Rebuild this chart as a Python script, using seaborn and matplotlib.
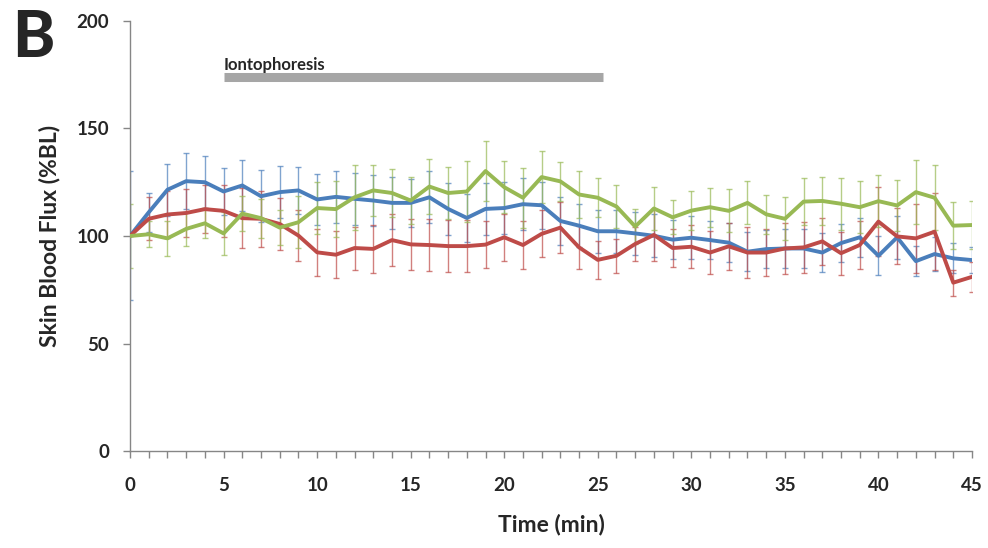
import numpy as np
import pandas as pd
import matplotlib
matplotlib.use("Agg")
import matplotlib.pyplot as plt
import seaborn as sns

# Tiempo (min) y flujo sanguíneo (%BL) por grupo, con su desviación
time = list(range(46))

blue = [100, 111, 121.5, 125.5, 125, 120.7, 123.5, 118.5, 120.4, 121.2, 117, 118.2,
        117.3, 116.5, 115.4, 115.4, 118, 112.6, 108.4, 112.6, 113, 114.8, 114.3, 107,
        104.8, 102.2, 102.2, 101.2, 100.1, 98.3, 99.2, 98.1, 96.9, 92.7, 93.9, 94.2,
        94.2, 92.3, 96.7, 99.4, 90.8, 99.4, 88.3, 91.6, 89.6, 88.8]
red = [100, 108, 110, 110.7, 112.5, 111.7, 108.3, 108, 105.6, 100.2, 92.4, 91.3,
       94.4, 94, 98.1, 96.1, 95.8, 95.3, 95.3, 96, 99.4, 95.8, 101, 103.9, 94.7, 88.9,
       90.8, 96.3, 100.5, 94.4, 95, 92.3, 95.2, 92.3, 92.3, 94.2, 94.7, 97.5, 92, 95.8,
       106.7, 99.8, 98.9, 102, 78.3, 81]
green = [100, 100.8, 98.9, 103.3, 105.9, 101.2, 110.4, 108.3, 103.9, 106.4, 113, 112.5,
         118, 121.2, 120, 116.5, 123, 120, 120.7, 130.2, 122.7, 117.8, 127.4, 125.4,
         119.3, 117.8, 113.7, 104.4, 112.8, 108.7, 111.8, 113.4, 111.7, 115.4, 110.1,
         108, 116, 116.3, 115, 113.4, 116.2, 114.2, 120.4, 117.8, 104.8, 105.1]

blue_sd = [30, 9, 12, 13, 12, 11, 12, 12, 12, 11, 12, 12, 12, 12, 12, 11, 12, 12, 11, 12,
           12, 12, 11, 11, 10, 10, 10, 10, 10, 9, 10, 9, 9, 9, 9, 9, 9, 9, 9, 9, 9, 10,
           7, 8, 7, 6]
red_sd = [0, 10, 11, 11, 11, 12, 14, 13, 12, 12, 11, 11, 10, 11, 12, 12, 12, 12, 12, 11,
          11, 11, 11, 12, 10, 9, 8, 8, 12, 9, 10, 10, 11, 12, 11, 12, 12, 11, 10, 11, 16,
          13, 16, 18, 6, 7]
green_sd = [15, 6, 8, 8, 7, 10, 8, 9, 8, 12, 12, 13, 15, 12, 11, 11, 13, 12, 14, 14, 12,
            14, 12, 9, 11, 9, 10, 8, 10, 8, 9, 9, 10, 10, 9, 10, 11, 11, 12, 12, 12, 12,
            15, 15, 11, 11]

groups = ["Grupo 1", "Grupo 2", "Grupo 3"]
colors = {"Grupo 1": "#4A7EBB", "Grupo 2": "#BE4B48", "Grupo 3": "#98B954"}

# Periodo de iontoforesis
ionto_start, ionto_end, ionto_level = 5, 25.3, 174

df = pd.DataFrame({
    "Time": time * 3,
    "Flux": blue + red + green,
    "SD": blue_sd + red_sd + green_sd,
    "Grupo": np.repeat(groups, len(time)),
})

sns.set_style("ticks")
plt.rcParams['font.family'] = ['Lato', 'DejaVu Sans']

fig = plt.figure(figsize=(9.88, 5.48), dpi=100)
ax = fig.add_axes([0.1316, 0.177, 0.8522, 0.7847])

# Barras de error primero, debajo de las líneas
for g in groups:
    sub = df[df["Grupo"] == g]
    ax.errorbar(sub["Time"], sub["Flux"], yerr=sub["SD"], fmt="none",
                ecolor=colors[g], alpha=0.7, elinewidth=1, capsize=2.5,
                capthick=1, zorder=1)

sns.lineplot(data=df, x="Time", y="Flux", hue="Grupo", palette=colors,
             linewidth=2.8, legend=False, ax=ax, zorder=3)

# Barra de iontoforesis
ax.plot([ionto_start, ionto_end], [ionto_level, ionto_level], color="#A6A6A6",
        linewidth=6.5, solid_capstyle="butt")
ax.text(ionto_start, ionto_level + 3, "Iontophoresis", fontsize=12,
        fontweight="bold", ha="left", va="baseline")

ax.set_xlim(0, 45)
ax.set_ylim(0, 200)
ax.set_xticks(range(0, 46, 5))
ax.set_xticks(time, minor=True)
ax.set_yticks(range(0, 201, 50))

sns.despine(ax=ax)
for s in ["left", "bottom"]:
    ax.spines[s].set_color("#868686")
    ax.spines[s].set_linewidth(1)
ax.tick_params(axis="both", which="both", direction="out", length=5,
               width=1, color="#868686")
ax.tick_params(axis="x", which="major", pad=14, labelsize=13.5)
ax.tick_params(axis="y", which="major", pad=10, labelsize=13.5)
for lab in ax.get_xticklabels() + ax.get_yticklabels():
    lab.set_fontweight("bold")

ax.set_xlabel("Time (min)", fontsize=16.5, fontweight="bold", labelpad=14)
ax.set_ylabel("Skin Blood Flux (%BL)", fontsize=16.5, fontweight="bold", labelpad=12)

fig.text(0.012, 0.896, "B", fontsize=46, fontweight="black", ha="left", va="baseline")

fig.savefig("out.png", dpi=100)
